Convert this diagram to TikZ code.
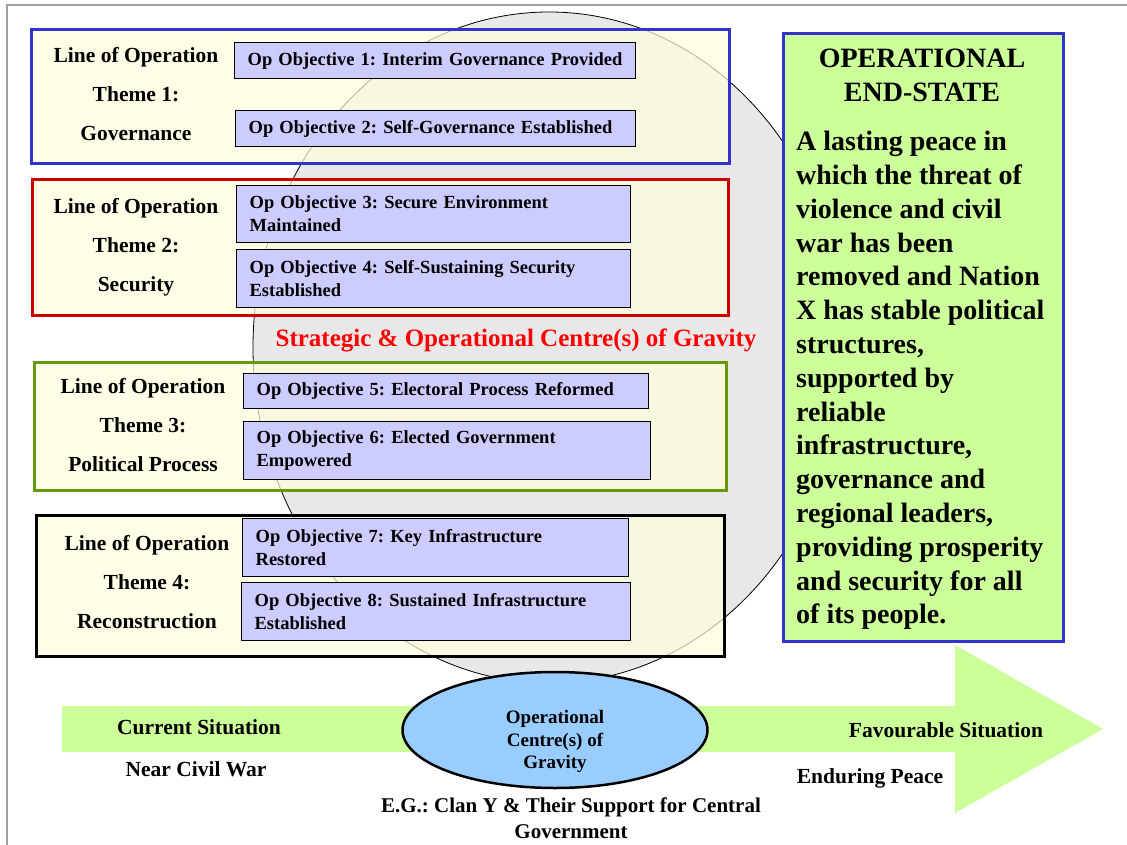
\documentclass[tikz,border=0pt]{standalone}
\usepackage{fontspec}
\setmainfont{Liberation Serif}
\usetikzlibrary{positioning,shapes.geometric}
\frenchspacing
\definecolor{themeyellow}{HTML}{FFFFDD}
\definecolor{objlilac}{HTML}{CCCCFF}
\definecolor{endgreen}{HTML}{CCFF99}
\definecolor{cogblue}{HTML}{99CCFF}
\definecolor{cloudgray}{HTML}{E8E8E8}
\definecolor{frameblue}{HTML}{3333CC}
\definecolor{framered}{HTML}{CC0000}
\definecolor{framegreen}{HTML}{669900}
\definecolor{gravityred}{HTML}{FF0000}
\newcommand\objfnt{\fontsize{18.5}{23}\selectfont\bfseries}
\newcommand\lblfnt{\fontsize{21.5}{39}\selectfont\bfseries}
\newcommand\sitfnt{\fontsize{21.5}{26}\selectfont\bfseries}
\newcommand\statefnt{\fontsize{28}{33.8}\selectfont\bfseries}
\newcommand\cogfnt{\fontsize{19}{22.5}\selectfont\bfseries}
\begin{document}
\begin{tikzpicture}[x=1pt,y=-1pt,
   theme/.style={draw=#1,line width=2.8pt,fill=themeyellow,fill opacity=0.7,anchor=north west,inner sep=0pt},
   obj/.style={draw=black,line width=1.3pt,fill=objlilac,anchor=north west,inner xsep=13pt,inner ysep=0pt,align=left,font=\objfnt},
   lbl/.style={align=center,font=\lblfnt},
   sit/.style={align=center,font=\sitfnt}]
\useasboundingbox (0,0) rectangle (1127,845);
% slide frame
\draw[gray!75,line width=1.2pt] (7,845) -- (7,5) -- (1127,5);
% centre of gravity cloud
\draw[fill=cloudgray,line width=0.8pt] (549,347.5) ellipse [x radius=296,y radius=335.5];
% time arrow
\fill[endgreen] (62,706) -- (955,706) -- (955,645) -- (1103,729) -- (955,813) -- (955,752) -- (62,752) -- cycle;
% lines of operation
\node[theme=frameblue, minimum width=698pt, minimum height=134pt] (theme1) at (30,28) {};
\node[theme=framered, minimum width=696pt, minimum height=136pt] (theme2) at (31,178) {};
\node[theme=framegreen, minimum width=692pt, minimum height=128pt] (theme3) at (33,361) {};
\node[theme=black, minimum width=688pt, minimum height=141pt] (theme4) at (35,514) {};
\node[lbl] (lbl1) at (136,94) {Line of Operation\\Theme 1:\\Governance};
\node[lbl] (lbl2) at (136,247) {Line of Operation\\Theme 2:\\Security};
\node[lbl] (lbl3) at (143,425) {Line of Operation\\Theme 3:\\Political Process};
\node[lbl] (lbl4) at (147,582) {Line of Operation\\Theme 4:\\Reconstruction};
% objectives
\node[obj, minimum width=401pt, minimum height=36pt, text width=375pt] (obj1) at (234,42) {Op Objective 1: Interim Governance Provided};
\node[obj, minimum width=400pt, minimum height=36pt, text width=374pt] (obj2) at (235,110) {Op Objective 2: Self-Governance Established};
\node[obj, minimum width=394pt, minimum height=57pt, text width=368pt] (obj3) at (236,185) {Op Objective 3: Secure Environment\\Maintained};
\node[obj, minimum width=394pt, minimum height=58pt, text width=368pt] (obj4) at (236,249) {Op Objective 4: Self-Sustaining Security\\Established};
\node[obj, minimum width=405pt, minimum height=35pt, text width=379pt] (obj5) at (243,373) {Op Objective 5: Electoral Process Reformed};
\node[obj, minimum width=407pt, minimum height=58pt, text width=381pt] (obj6) at (243,421) {Op Objective 6: Elected Government\\Empowered};
\node[obj, minimum width=386pt, minimum height=58pt, text width=360pt] (obj7) at (242,518) {Op Objective 7: Key Infrastructure\\Restored};
\node[obj, minimum width=389pt, minimum height=58pt, text width=363pt] (obj8) at (241,582) {Op Objective 8: Sustained Infrastructure\\Established};
\node[font=\fontsize{25}{28}\selectfont\bfseries, text=gravityred] (cogtitle) at (516,340) {Strategic \& Operational Centre(s) of Gravity};
% end-state
\node[draw=frameblue, line width=2.8pt, fill=endgreen, anchor=north west, minimum width=280pt, minimum height=608pt] (endstate) at (782,32) {};
\node[align=center, font=\fontsize{28}{34}\selectfont\bfseries] (endtitle) at (922,75) {OPERATIONAL\\END-STATE};
\node[align=left, font=\statefnt, anchor=west, inner sep=0pt] (endbody) at (796,380.5) {A lasting peace in\\which the threat of\\violence and civil\\war has been\\removed and Nation\\X has stable political\\structures,\\supported by\\reliable\\infrastructure,\\governance and\\regional leaders,\\providing prosperity\\and security for all\\of its people.};
% operational centre of gravity
\node[ellipse, draw=black, line width=2.5pt, fill=cogblue, minimum width=305pt, minimum height=116pt] (cog) at (555,730) {};
\node[align=center, font=\cogfnt] (cogtext) at (555,741.5) {Operational\\Centre(s) of\\Gravity};
\node[sit] (cur) at (199,727) {Current Situation};
\node[sit] (near) at (196,769) {Near Civil War};
\node[sit] (fav) at (946,730) {Favourable Situation};
\node[sit] (endpeace) at (870,778) {Enduring Peace};
\node[sit, font=\fontsize{21}{26}\selectfont\bfseries] (eg) at (571,818) {E.G.: Clan Y \& Their Support for Central\\Government};
\end{tikzpicture}
\end{document}
